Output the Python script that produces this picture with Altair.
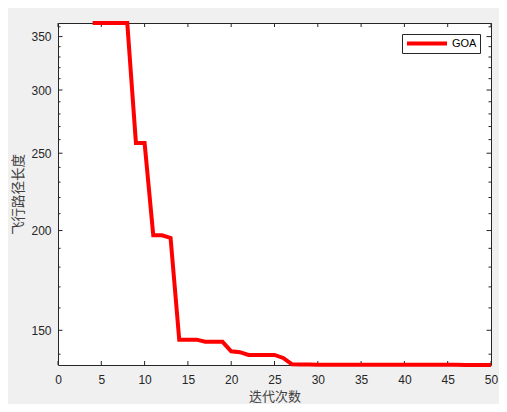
import altair as alt
import pandas as pd

# ---- data ----
iterations = list(range(4, 51))
path_length = ([364.0] * 5 + [257.5] * 2 + [197.3] * 2 + [195.8] + [146.0] * 3 + [145.1] * 3
               + [141.2, 140.8] + [139.7] * 4 + [138.5] + [136.0, 135.9, 135.85]
               + [135.8] * 17 + [135.7] * 4)
series_name = "GOA"

x_ticks = list(range(0, 51, 5))
y_major = [150, 200, 250, 300, 350]
y_minor = [v for v in range(140, 361, 10) if v not in y_major]

x_title = "迭代次数"
y_title = "飞行路径长度"

W, H = 433, 342
AXC = "#262626"

df = pd.DataFrame({"iter": iterations, "len": path_length, "name": series_name})
xt = pd.DataFrame({"iter": x_ticks})
ymaj = pd.DataFrame({"len": y_major})
ymin = pd.DataFrame({"len": y_minor})

xs = alt.Scale(domain=[0, 50], nice=False, zero=False)
ys = alt.Scale(type="log", domain=[min(path_length), max(path_length)], nice=False)

line = alt.Chart(df).mark_line(strokeWidth=4, clip=False).encode(
    x=alt.X("iter:Q", scale=xs,
            axis=alt.Axis(values=x_ticks, title=x_title, grid=False, domain=False, ticks=False,
                          labelFont="Liberation Sans", labelFontSize=12, labelColor=AXC,
                          labelPadding=9, titleFont="Noto Sans CJK SC", titleFontSize=13,
                          titleFontWeight="normal", titleColor="#404040",
                          titleY=31.5, titleBaseline="middle", labelFlush=False)),
    y=alt.Y("len:Q", scale=ys,
            axis=alt.Axis(values=y_major, title=y_title, grid=False, domain=False, ticks=False,
                          labelFont="Liberation Sans", labelFontSize=12, labelColor=AXC,
                          labelPadding=7, titleFont="Noto Sans CJK SC", titleFontSize=13.5,
                          titleFontWeight="normal", titleColor="#404040",
                          titleX=-40, titleBaseline="middle", labelFlush=False)),
    color=alt.Color("name:N", scale=alt.Scale(domain=[series_name], range=["#ff0000"]),
                    legend=alt.Legend(title=None, orient="none", legendX=344, legendY=11,
                                      symbolType="stroke", symbolSize=1600, symbolStrokeWidth=4,
                                      clipHeight=13, padding=3, labelOffset=3,
                                      labelFont="Liberation Sans", labelFontSize=11,
                                      labelColor="#000000", strokeColor=AXC, fillColor="white",
                                      cornerRadius=0)),
)

def xrule(y0, y1):
    return alt.Chart(xt).mark_rule(color=AXC, strokeWidth=1).encode(
        x=alt.X("iter:Q", scale=xs), y=alt.value(y0), y2=alt.value(y1))

def yrule(data, x0, x1):
    return alt.Chart(data).mark_rule(color=AXC, strokeWidth=1).encode(
        y=alt.Y("len:Q", scale=ys), x=alt.value(x0), x2=alt.value(x1))

ticks = [
    xrule(H, H - 4), xrule(0, 4),
    yrule(ymaj, 0, 4.5), yrule(ymaj, W - 4.5, W),
    yrule(ymin, 0, 2.5), yrule(ymin, W - 2.5, W),
]

chart = alt.layer(*ticks, line).properties(
    width=W, height=H,
    background="#f0f0f0",
    padding={"left": 50, "top": 15, "right": 8, "bottom": 39},
    autosize=alt.AutoSizeParams(type="none"),
).configure_view(stroke=AXC, strokeWidth=1, fill="white")

chart.save("out.html", embed_options={"renderer": "svg", "actions": False})
